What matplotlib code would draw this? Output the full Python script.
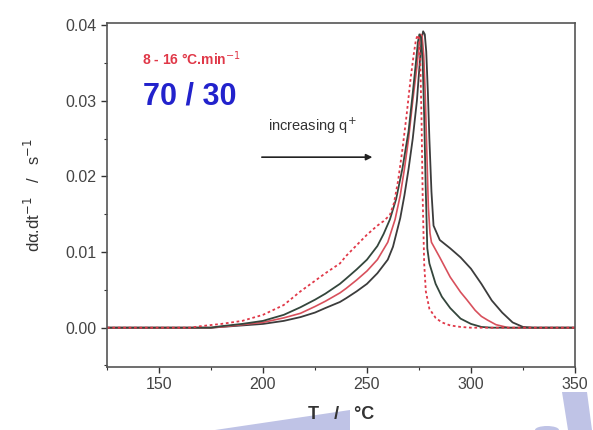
import matplotlib
matplotlib.use("Agg")
import matplotlib.pyplot as plt
from matplotlib.patches import Polygon, Ellipse
from matplotlib.ticker import MultipleLocator

plt.rcParams["font.family"] = ["Liberation Sans", "DejaVu Sans"]

# dotted red (lowest heating rate)
T_A = [125, 165, 170, 180, 190, 200, 210, 218, 225, 230, 237, 240, 245, 250, 255, 258, 261, 263,
       265, 267, 269, 271, 272.5, 273.5, 274.3, 275, 275.6, 276.2, 276.8, 277.5, 278.3, 280, 283,
       286, 290, 295, 300, 350]
Y_A = [0, 0, 0.0002, 0.0005, 0.0009, 0.0017, 0.003, 0.0048, 0.0062, 0.0072, 0.0085, 0.0095, 0.0109,
       0.0123, 0.0135, 0.0141, 0.0149, 0.0165, 0.0195, 0.0235, 0.028, 0.033, 0.0362, 0.0380, 0.0387,
       0.0383, 0.0355, 0.028, 0.017, 0.0085, 0.0048, 0.0025, 0.0013, 0.0007, 0.0003, 0.0001, 0, 0]

# dark green
T_B = [125, 175, 180, 190, 200, 210, 218, 225, 230, 237, 240, 245, 250, 255, 258, 261, 264, 267,
       270, 272, 273.5, 274.5, 275.2, 276, 276.8, 277.5, 278.2, 279, 280, 283, 286, 290, 295, 300,
       305, 310, 350]
Y_B = [0, 0, 0.0002, 0.0005, 0.0009, 0.0017, 0.0027, 0.0037, 0.0045, 0.0058, 0.0065, 0.0077, 0.009,
       0.0108, 0.0124, 0.0143, 0.017, 0.021, 0.026, 0.031, 0.035, 0.0378, 0.0388, 0.0384, 0.035, 0.028,
       0.019, 0.0105, 0.0085, 0.0058, 0.0041, 0.0026, 0.0012, 0.0005, 0.0001, 0, 0]

# red
T_C = [125, 175, 180, 190, 200, 210, 218, 225, 230, 237, 240, 245, 250, 255, 260, 263.5, 266, 268,
       270, 272, 274, 275, 275.8, 276.5, 277.3, 278, 278.8, 279.5, 280.3, 281, 285, 290, 295, 298,
       302, 305, 308, 312, 318, 350]
Y_C = [0, 0, 0.0001, 0.0004, 0.0007, 0.0013, 0.0019, 0.0028, 0.0035, 0.0046, 0.0052, 0.0063, 0.0075,
       0.009, 0.0113, 0.0143, 0.0175, 0.021, 0.025, 0.030, 0.0345, 0.0372, 0.0388, 0.0386, 0.036,
       0.031, 0.023, 0.016, 0.0125, 0.0113, 0.0093, 0.0067, 0.0047, 0.0037, 0.0023, 0.0015, 0.001,
       0.0004, 0, 0]

# dark grey (highest heating rate)
T_D = [125, 175, 180, 190, 200, 210, 218, 225, 230, 237, 240, 245, 250, 255, 260, 262.5, 266, 268,
       270, 272, 274, 275.5, 276.3, 277, 277.8, 278.5, 279.3, 280, 281, 282, 285, 290, 295, 300, 305,
       310, 315, 320, 325, 330, 350]
Y_D = [0, 0, 0.0001, 0.0003, 0.0005, 0.0009, 0.0014, 0.002, 0.0026, 0.0034, 0.0039, 0.0048, 0.0058,
       0.0072, 0.009, 0.0107, 0.0145, 0.0175, 0.021, 0.025, 0.030, 0.0355, 0.0382, 0.0392, 0.0388,
       0.0365, 0.031, 0.025, 0.018, 0.0135, 0.0116, 0.0105, 0.0093, 0.0078, 0.0058, 0.0036, 0.002,
       0.0007, 0.0001, 0, 0]

X_TICKS = [150, 200, 250, 300, 350]
Y_TICKS = [0.00, 0.01, 0.02, 0.03, 0.04]

DARK = "#34463c"
RED = "#d8505c"

fig = plt.figure(figsize=(5.93, 4.30), dpi=100)
ax = fig.add_axes([0.1804, 0.1465, 0.7892, 0.8000])

ax.plot(T_D, Y_D, color="#3c3c3c", lw=1.3)
ax.plot(T_C, Y_C, color=RED, lw=1.2)
ax.plot(T_B, Y_B, color=DARK, lw=1.3)
ax.plot(T_A, Y_A, color="#e03848", lw=1.3, linestyle=(0, (1.5, 1.5)))

ax.set_xlim(125, 350)
ax.set_ylim(-0.0052, 0.0403)
ax.set_xticks(X_TICKS)
ax.set_yticks(Y_TICKS)
ax.set_yticklabels([f"{v:.2f}" for v in Y_TICKS])
ax.xaxis.set_minor_locator(MultipleLocator(25))
ax.yaxis.set_minor_locator(MultipleLocator(0.005))
ax.tick_params(which="both", direction="out", top=False, right=False, labelsize=11.5,
               colors="#333333", labelcolor="#444444")
ax.tick_params(which="major", length=4, width=1)
ax.tick_params(which="minor", length=2.5, width=0.8)
for spine in ax.spines.values():
    spine.set_color("#555555")
    spine.set_linewidth(1.2)

ax.set_xlabel("T   /   °C", fontsize=13, fontweight="bold", color="#333333", labelpad=10)
ax.set_ylabel("dα.dt$^{-1}$   /   s$^{-1}$", fontsize=12, color="#333333", labelpad=16)

ax.text(0.075, 0.895, "8 - 16 °C.min$^{-1}$", transform=ax.transAxes, fontsize=10,
        fontweight="bold", color="#e03848", va="center")
ax.text(0.078, 0.785, "70 / 30", transform=ax.transAxes, fontsize=22, fontweight="bold",
        color="#2222cc", va="center")
ax.text(0.345, 0.70, "increasing q$^{+}$", transform=ax.transAxes, fontsize=10.5, color="#333333",
        va="center")
ax.annotate("", xy=(0.573, 0.61), xytext=(0.325, 0.61), xycoords="axes fraction",
            arrowprops=dict(arrowstyle="-|>", color="#222222", lw=1.2, mutation_scale=9))

# lavender watermark shapes at the bottom of the picture, kept behind the text
fig.patches.append(Polygon([(215 / 593, 0.0), (350 / 593, 20 / 430), (350 / 593, 0.0)],
                           closed=True, transform=fig.transFigure, facecolor="#bfc3e6",
                           edgecolor="none", zorder=-1))
fig.patches.append(Polygon([(562 / 593, 38 / 430), (587 / 593, 38 / 430), (592 / 593, 0.0),
                            (568 / 593, 0.0)], closed=True, transform=fig.transFigure,
                           facecolor="#bfc3e6", edgecolor="none", zorder=-1))
fig.patches.append(Ellipse((547 / 593, 0.0), 24 / 593, 8 / 430, transform=fig.transFigure,
                           facecolor="#bfc3e6", edgecolor="none", zorder=-1))

fig.savefig("out.png", dpi=100)
